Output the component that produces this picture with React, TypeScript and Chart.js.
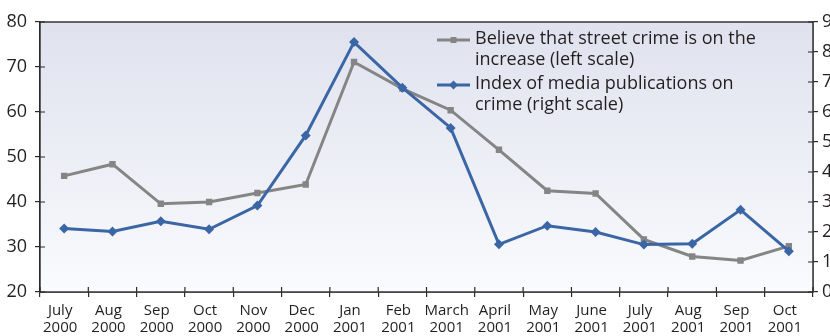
import React, { useEffect, useRef } from "react";
import { Chart, registerables } from "chart.js";
Chart.register(...registerables);

const months = ["July", "Aug", "Sep", "Oct", "Nov", "Dec", "Jan", "Feb", "March", "April", "May", "June", "July", "Aug", "Sep", "Oct"];
const years = ["2000", "2000", "2000", "2000", "2000", "2000", "2001", "2001", "2001", "2001", "2001", "2001", "2001", "2001", "2001", "2001"];
const streetCrime = [45.8, 48.4, 39.6, 40.0, 42.0, 43.9, 71.1, 65.2, 60.4, 51.6, 42.5, 41.9, 31.7, 27.9, 27.0, 30.2];
const mediaIndex = [2.12, 2.02, 2.36, 2.09, 2.88, 5.22, 8.33, 6.81, 5.47, 1.59, 2.21, 2.0, 1.58, 1.61, 2.74, 1.36];
const legendCrime = ["Believe that street crime is on the", "increase (left scale)"];
const legendMedia = ["Index of media publications on", "crime (right scale)"];
const leftMin = 20, leftMax = 80, leftStep = 10;
const rightMin = 0, rightMax = 9, rightStep = 1;

const W = 850, H = 336;
const FONT = "'Open Sans', 'DejaVu Sans', sans-serif";
const TXT = "#231f20";
const AX = "#2a2a2a";
const GRAY = "#858585";
const BLUE = "#3b66a6";

const bgPlugin = {
  id: "bgPlugin",
  beforeDatasetsDraw(chart: any) {
    const { ctx, chartArea: a } = chart;
    const g = ctx.createLinearGradient(0, a.top, 0, a.bottom);
    g.addColorStop(0, "#dfe1ee");
    g.addColorStop(1, "#fafbfd");
    ctx.save();
    ctx.fillStyle = g;
    ctx.fillRect(a.left, a.top, a.right - a.left, a.bottom - a.top);
    ctx.restore();
  },
};

const frame = {
  id: "frame",
  afterDraw(chart: any) {
    const { ctx, chartArea: a, scales } = chart;
    ctx.save();
    ctx.strokeStyle = AX;
    ctx.lineWidth = 1.4;
    ctx.strokeRect(a.left, a.top, a.right - a.left, a.bottom - a.top);
    ctx.lineWidth = 1.2;
    ctx.beginPath();
    const y = scales.y, y1 = scales.y1, x = scales.x;
    y.ticks.forEach((_t: any, i: number) => {
      const p = y.getPixelForTick(i);
      ctx.moveTo(a.left, p);
      ctx.lineTo(a.left + 5, p);
    });
    y1.ticks.forEach((_t: any, i: number) => {
      const p = y1.getPixelForTick(i);
      ctx.moveTo(a.right, p);
      ctx.lineTo(a.right - 5, p);
    });
    const half = (x.getPixelForValue(1) - x.getPixelForValue(0)) / 2;
    for (let i = 0; i <= months.length; i++) {
      const p = x.getPixelForValue(0) - half + i * 2 * half;
      ctx.moveTo(p, a.bottom);
      ctx.lineTo(p, a.bottom - 5);
    }
    ctx.stroke();
    ctx.restore();
  },
};

function drawMarker(ctx: any, style: string, cx: number, cy: number, color: string) {
  ctx.fillStyle = color;
  ctx.beginPath();
  if (style === "rect") {
    ctx.rect(cx - 3, cy - 3, 6, 6);
  } else {
    ctx.moveTo(cx, cy - 4.5);
    ctx.lineTo(cx + 4.5, cy);
    ctx.lineTo(cx, cy + 4.5);
    ctx.lineTo(cx - 4.5, cy);
    ctx.closePath();
  }
  ctx.fill();
}

const legendPlugin = {
  id: "legendPlugin",
  afterDraw(chart: any) {
    const { ctx, chartArea: a } = chart;
    const items = [
      { lines: legendCrime, color: GRAY, style: "rect" },
      { lines: legendMedia, color: BLUE, style: "rectRot" },
    ];
    const lx = a.right - 376;
    let cy = a.top + 17;
    ctx.save();
    ctx.font = `18px ${FONT}`;
    ctx.textBaseline = "middle";
    ctx.textAlign = "left";
    items.forEach((it) => {
      ctx.strokeStyle = it.color;
      ctx.lineWidth = 3;
      ctx.beginPath();
      ctx.moveTo(lx, cy + 1);
      ctx.lineTo(lx + 33, cy + 1);
      ctx.stroke();
      drawMarker(ctx, it.style, lx + 16.5, cy + 1, it.color);
      ctx.fillStyle = TXT;
      it.lines.forEach((ln, j) => {
        ctx.fillText(ln, lx + 38, cy + j * 21);
      });
      cy += 45;
    });
    ctx.restore();
  },
};

export default function App() {
  const ref = useRef<HTMLCanvasElement | null>(null);
  useEffect(() => {
    if (!ref.current) return;
    Chart.defaults.font.family = FONT;
    Chart.defaults.color = TXT;
    const chart = new Chart(ref.current, {
      type: "line",
      data: {
        labels: months.map((m, i) => [m, years[i]]),
        datasets: [
          {
            label: legendCrime.join(" "),
            data: streetCrime,
            yAxisID: "y",
            borderColor: GRAY,
            backgroundColor: GRAY,
            borderWidth: 3,
            pointStyle: "rect",
            pointRadius: 4.5,
            pointBorderWidth: 0,
            pointBackgroundColor: GRAY,
            tension: 0,
            order: 1,
          },
          {
            label: legendMedia.join(" "),
            data: mediaIndex,
            yAxisID: "y1",
            borderColor: BLUE,
            backgroundColor: BLUE,
            borderWidth: 3,
            pointStyle: "rectRot",
            pointRadius: 5,
            pointBorderWidth: 0,
            pointBackgroundColor: BLUE,
            tension: 0,
            order: 0,
          },
        ],
      },
      options: {
        animation: false,
        responsive: false,
        devicePixelRatio: 1,
        layout: { padding: { top: 22, left: 0, right: 0, bottom: 0 } },
        plugins: { legend: { display: false }, tooltip: { enabled: false } },
        scales: {
          x: {
            type: "category",
            offset: true,
            grid: { offset: true, drawOnChartArea: false, drawTicks: true, tickLength: 5, color: AX, lineWidth: 1.2 },
            border: { display: true, color: AX, width: 1.4 },
            ticks: { font: { size: 15, lineHeight: 1.13 }, color: TXT, padding: 5, labelOffset: -4, maxRotation: 0, autoSkip: false },
            afterFit: (s: any) => { s.height = 44; },
          },
          y: {
            position: "left",
            min: leftMin,
            max: leftMax,
            grid: { drawOnChartArea: false, drawTicks: true, tickLength: 5, color: AX, lineWidth: 1.2 },
            border: { display: true, color: AX, width: 1.4 },
            ticks: { stepSize: leftStep, font: { size: 18 }, color: TXT, padding: 8 },
            afterFit: (s: any) => { s.width = 40; },
          },
          y1: {
            position: "right",
            min: rightMin,
            max: rightMax,
            grid: { drawOnChartArea: false, drawTicks: true, tickLength: 5, color: AX, lineWidth: 1.2 },
            border: { display: true, color: AX, width: 1.4 },
            ticks: { stepSize: rightStep, font: { size: 18 }, color: TXT, padding: 4 },
            afterFit: (s: any) => { s.width = W - 813; },
          },
        },
      },
      plugins: [bgPlugin, frame, legendPlugin],
    } as any);
    return () => chart.destroy();
  }, []);
  return (
    <div style={{ position: "fixed", left: 0, top: 0, width: 830, height: 336, overflow: "hidden", background: "#fff" }}>
      <canvas ref={ref} width={W} height={H} style={{ width: W, height: H, display: "block" }} />
    </div>
  );
}
